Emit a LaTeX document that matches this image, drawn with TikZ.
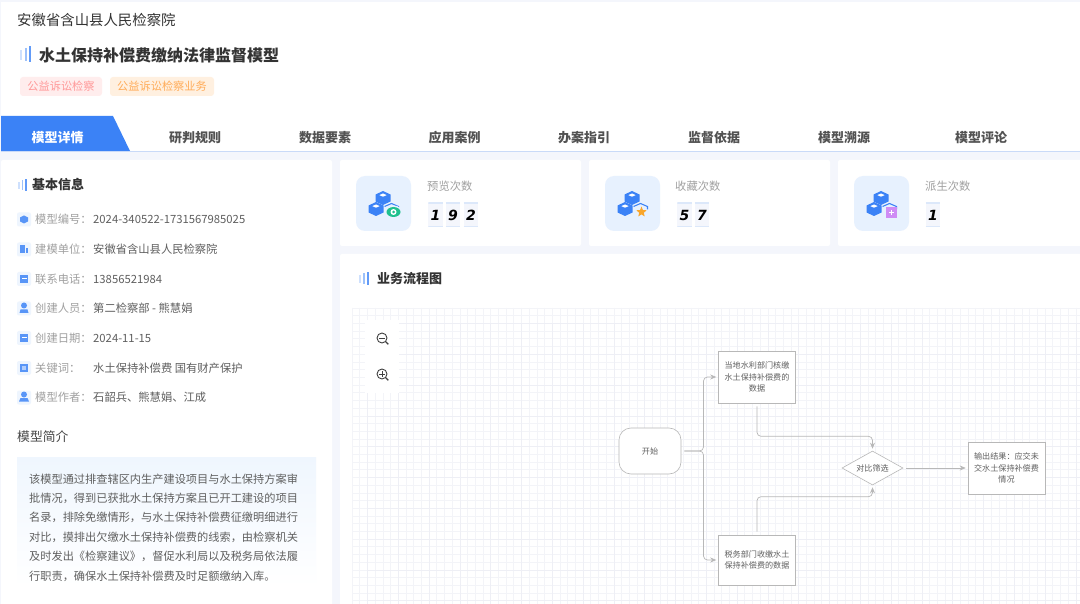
\documentclass[tikz,border=0pt]{standalone}
\usepackage{fontspec}
\setmainfont{Noto Sans CJK SC}
\newfontfamily\digitfont{DejaVu Sans}[BoldFont={DejaVu Sans Bold},BoldItalicFont={DejaVu Sans Bold Oblique}]
\usetikzlibrary{shapes.geometric, arrows.meta}
\definecolor{pagebg}{HTML}{F4F6FC}
\definecolor{mainblue}{HTML}{3B82F6}
\definecolor{tiletint}{HTML}{E7F1FE}
\definecolor{inktext}{HTML}{333333}
\definecolor{softtext}{HTML}{A0A0A0}
\definecolor{valtext}{HTML}{5F5F5F}
\definecolor{flowline}{HTML}{B8B8B8}
\definecolor{tabline}{HTML}{C9DAF8}
\definecolor{digitline}{HTML}{DCE8FA}
\definecolor{gridminor}{HTML}{F3F4F8}
\definecolor{gridmajor}{HTML}{EEEFF5}
\definecolor{introtint}{HTML}{EFF6FE}
\definecolor{eyegreen}{HTML}{1FC08E}
\definecolor{starorange}{HTML}{F9A62B}
\definecolor{plusviolet}{HTML}{CF8CF5}
\newcommand{\fs}[1]{\fontsize{#1}{#1}\selectfont}
\newcommand{\qd}{^^^^ff0c}
\newcommand{\mh}{^^^^ff1a}
\newcommand{\barmark}[3]{
  \begin{scope}[shift={(#1,#2)}, scale=#3]
    \fill[mainblue!25] (-5.5,-4.5) rectangle (-3.5,5.5);
    \fill[mainblue!50] (-1,-6.5) rectangle (1,7);
    \fill[mainblue!80] (3.5,-8) rectangle (5.5,7.5);
  \end{scope}
}
\newcommand{\cubes}[2]{
  \begin{scope}[shift={(#1,#2)}]
    \fill[tiletint, rounded corners=9pt] (-27.5,-27.5) rectangle (27.5,27.5);
    \draw[mainblue, line width=1.1pt] (1,3) -- (8,0) -- (15,3) -- (15,6);
    \fill[mainblue] (-0.5,-12.5) -- (7,-9) -- (7,-2) -- (-0.5,1.5) -- (-8,-2) -- (-8,-9) -- cycle;
    \fill[white] (-0.5,-10) -- (3.2,-8.4) -- (-0.5,-6.8) -- (-4.2,-8.4) -- cycle;
    \fill[mainblue] (-7.5,-1.5) -- (0,2) -- (0,9) -- (-7.5,12.5) -- (-15,9) -- (-15,2) -- cycle;
    \fill[white] (-7.5,1) -- (-3.8,2.6) -- (-7.5,4.2) -- (-11.2,2.6) -- cycle;
  \end{scope}
}
\tikzstyle{card} = [fill=white, rounded corners=2pt]
\tikzstyle{tag} = [rounded corners=3pt, minimum height=19pt, inner sep=0pt, font=\fs{11.2}]
\tikzstyle{tab} = [font=\fs{13}\bfseries, text=inktext!85, inner sep=0pt]
\tikzstyle{head} = [font=\fs{13}\bfseries, text=inktext, anchor=west, inner sep=0pt]
\tikzstyle{itemlab} = [font=\fs{11.3}, text=softtext, anchor=west, inner sep=0pt]
\tikzstyle{itemval} = [font=\fs{11.3}, text=valtext, anchor=west, inner sep=0pt]
\tikzstyle{itemtile} = [fill=tiletint!70, rounded corners=2pt, minimum size=14pt, inner sep=0pt]
\tikzstyle{itemglyph} = [fill=mainblue!85]
\tikzstyle{counter} = [font=\fs{11.3}, text=softtext, anchor=west, inner sep=0pt]
\tikzstyle{digit} = [minimum width=14.5pt, minimum height=24pt, inner sep=0pt, fill=pagebg, font=\digitfont\fs{14}\bfseries\itshape, path picture={\draw[digitline, line width=1.4pt] (path picture bounding box.north west) -- (path picture bounding box.north east) (path picture bounding box.south west) -- (path picture bounding box.south east);}]
\tikzstyle{flowbox} = [draw=flowline, fill=white, line width=0.6pt, inner sep=0pt, align=center, font=\fontsize{8.1}{11.4}\selectfont, text=valtext]
\tikzstyle{decision} = [diamond, aspect=1.8, draw=flowline, fill=white, line width=0.6pt, inner sep=0pt, align=center, font=\fs{8.1}, text=valtext]
\tikzstyle{arrow} = [flowline, line width=0.7pt, -{Stealth[length=6pt, width=5pt]}, rounded corners=4pt, shorten <=3pt, shorten >=2pt]
\tikzstyle{lens} = [black!75, line width=0.9pt]
\begin{document}
\begin{tikzpicture}[x=1pt, y=1pt, yscale=-1]
\useasboundingbox (0,0) rectangle (1080,604);
\fill[pagebg] (0,0) rectangle (1080,604);

\fill[white] (1,2) rectangle (1080,151);
\draw[tabline, line width=1pt] (1,151.5) -- (1080,151.5);
\fill[mainblue] (1,116) -- (113,116) -- (130,151) -- (1,151) -- cycle;

\node at (17,20) (court) [anchor=west, inner sep=0pt, font=\fs{14.4}, text=inktext] {安徽省含山县人民检察院};
\barmark{25.5}{54.5}{1}
\node at (39,55) (title) [anchor=west, inner sep=0pt, font=\fs{16}\bfseries, text=inktext] {水土保持补偿费缴纳法律监督模型};
\node at (61,86.5) (tagone) [tag, minimum width=82pt, fill=red!7, text=red!40] {公益诉讼检察};
\node at (162,86.5) (tagtwo) [tag, minimum width=104pt, fill=orange!12, text=orange!65] {公益诉讼检察业务};

\node at (57.5,138) (tabdetail) [tab, text=white] {模型详情};
\node at (195,138) (tabrule) [tab] {研判规则};
\node at (325,138) (tabdata) [tab] {数据要素};
\node at (454.5,138) (tabcase) [tab] {应用案例};
\node at (584,138) (tabguide) [tab] {办案指引};
\node at (714,138) (tabbasis) [tab] {监督依据};
\node at (844,138) (tabsource) [tab] {模型溯源};
\node at (981,138) (tabreview) [tab] {模型评论};

\fill[card] (1,160) rectangle (332,610);
\fill[card] (340,160) rectangle (581,246);
\fill[card] (589,160) rectangle (830,246);
\fill[card] (838,160) rectangle (1084,246);
\fill[card] (340,254) rectangle (1084,610);

\barmark{22.5}{185}{0.75}
\node at (32,185) (basic) [head] {基本信息};

\node at (24,219.5) (tileone) [itemtile] {};
\node at (35,219.5) (labone) [itemlab] {模型编号\mh};
\node at (93,219.5) (valone) [itemval] {2024-340522-1731567985025};
\node at (24,249.5) (tiletwo) [itemtile] {};
\node at (35,249.5) (labtwo) [itemlab] {建模单位\mh};
\node at (93,249.5) (valtwo) [itemval] {安徽省含山县人民检察院};
\node at (24,279) (tilethree) [itemtile] {};
\node at (35,279) (labthree) [itemlab] {联系电话\mh};
\node at (93,279) (valthree) [itemval] {13856521984};
\node at (24,308.5) (tilefour) [itemtile] {};
\node at (35,308.5) (labfour) [itemlab] {创建人员\mh};
\node at (93,308.5) (valfour) [itemval] {第二检察部 - 熊慧娟};
\node at (24,338) (tilefive) [itemtile] {};
\node at (35,338) (labfive) [itemlab] {创建日期\mh};
\node at (93,338) (valfive) [itemval] {2024-11-15};
\node at (24,368) (tilesix) [itemtile] {};
\node at (35,368) (labsix) [itemlab] {关键词\mh};
\node at (93,368) (valsix) [itemval] {水土保持补偿费 国有财产保护};
\node at (24,397.5) (tileseven) [itemtile] {};
\node at (35,397.5) (labseven) [itemlab] {模型作者\mh};
\node at (93,397.5) (valseven) [itemval] {石韶兵、熊慧娟、江成};

\fill[itemglyph] (24,215.5) -- (28,217.5) -- (28,221.5) -- (24,223.5) -- (20,221.5) -- (20,217.5) -- cycle;
\fill[itemglyph] (20,245.5) rectangle (25,253.5);
\fill[itemglyph] (25.6,248) rectangle (28,253.5);
\fill[itemglyph] (20,275) rectangle (28,283);
\fill[white] (21.5,278.5) rectangle (26.5,279.5);
\fill[itemglyph] (24,305.5) circle (3pt);
\fill[itemglyph] (19.5,313) -- (20.5,309.5) -- (27.5,309.5) -- (28.5,313) -- cycle;
\fill[itemglyph] (20,334) rectangle (28,342);
\fill[white] (21.5,337.5) rectangle (26.5,338.5);
\fill[itemglyph] (20,364) rectangle (28,372);
\fill[white!60!mainblue] (22,366) rectangle (26,370);
\fill[itemglyph] (24,394.5) circle (3pt);
\fill[itemglyph] (19,401.5) -- (20.5,398) -- (27.5,398) -- (29,401.5) -- cycle;

\node at (17,437) (intro) [anchor=west, inner sep=0pt, font=\fs{12.8}, text=inktext!90] {模型简介};
\shade[top color=introtint, bottom color=white] (17,457) rectangle (316,587);
\node at (29,527.5) (introtext) [anchor=west, inner sep=0pt, align=left, font=\fontsize{11.2}{19.4}\selectfont, text=valtext] {该模型通过排查辖区内生产建设项目与水土保持方案审\\批情况\qd 得到已获批水土保持方案且已开工建设的项目\\名录\qd 排除免缴情形\qd 与水土保持补偿费征缴明细进行\\对比\qd 摸排出欠缴水土保持补偿费的线索\qd 由检察机关\\及时发出《检察建议》\qd 督促水利局以及税务局依法履\\行职责\qd 确保水土保持补偿费及时足额缴纳入库。};

\cubes{383.5}{203.5}
\fill[tiletint] (393.5,212) ellipse (8.5pt and 6.5pt);
\fill[eyegreen] (393.5,212) ellipse (7pt and 5pt);
\fill[white] (393.5,212) circle (3pt);
\fill[eyegreen] (393.5,212) circle (1.5pt);
\node at (427,186) (viewlab) [counter] {预览次数};
\node at (435.5,215) (viewa) [digit] {1};
\node at (453,215) (viewb) [digit] {9};
\node at (471,215) (viewc) [digit] {2};

\cubes{632.5}{203.5}
\node at (641.5,212) (favstar) [star, star points=5, star point ratio=2.3, fill=starorange, inner sep=0pt, minimum size=11pt] {};
\node at (675,186) (favlab) [counter] {收藏次数};
\node at (684.5,215) (fava) [digit] {5};
\node at (702,215) (favb) [digit] {7};

\cubes{881.5}{203.5}
\fill[plusviolet] (886,207) rectangle (897,218);
\fill[white] (889,211.8) rectangle (894,213.2);
\fill[white] (890.8,210) rectangle (892.2,215);
\node at (925,186) (forklab) [counter] {派生次数};
\node at (933,215) (forka) [digit] {1};

\barmark{364}{278.5}{0.85}
\node at (377,279) (flowtitle) [head] {业务流程图};

\draw[gridminor, line width=0.6pt, shift={(352,308)}] (0,0) grid[step=7.7pt] (728,296);
\draw[gridmajor, line width=0.6pt, shift={(367.4,323.4)}] (0,0) grid[step=30.8pt] (712.6,280.6);
\fill[white] (365,320) rectangle (399,393);
\draw[lens] (382,338) circle (5pt);
\draw[lens, line width=1.3pt] (385.8,341.8) -- (388.3,344.3);
\draw[lens, line width=0.8pt] (379.2,338) -- (384.8,338);
\draw[lens] (382,374) circle (5pt);
\draw[lens, line width=1.3pt] (385.8,377.8) -- (388.3,380.3);
\draw[lens, line width=0.8pt] (379.2,374) -- (384.8,374);
\draw[lens, line width=0.8pt] (382,371.2) -- (382,376.8);

\node at (650,451) (start) [flowbox, rounded corners=12pt, minimum width=62pt, minimum height=46pt] {开始};
\node at (757,377) (water) [flowbox, minimum width=77pt, minimum height=52pt] {当地水利部门核缴\\水土保持补偿费的\\数据};
\node at (757,560) (tax) [flowbox, minimum width=77pt, minimum height=50pt] {税务部门收缴水土\\保持补偿费的数据};
\node at (872.5,468) (compare) [decision, minimum width=61pt, minimum height=34pt] {对比筛选};
\node at (1006.5,468) (output) [flowbox, minimum width=77pt, minimum height=52pt] {输出结果\mh 应交未\\交水土保持补偿费\\情况};
\coordinate (branch) at (703.5,451);

\draw[arrow] (start.east) -- (branch) |- (water.west);
\draw[arrow] (start.east) -- (branch) |- (tax.west);
\draw[arrow] (water.south) -- ++(0,33) -| (compare.north);
\draw[arrow] (tax.north) -- ++(0,-38) -| (compare.south);
\draw[arrow] (compare.east) -- (output.west);

\end{tikzpicture}
\end{document}
